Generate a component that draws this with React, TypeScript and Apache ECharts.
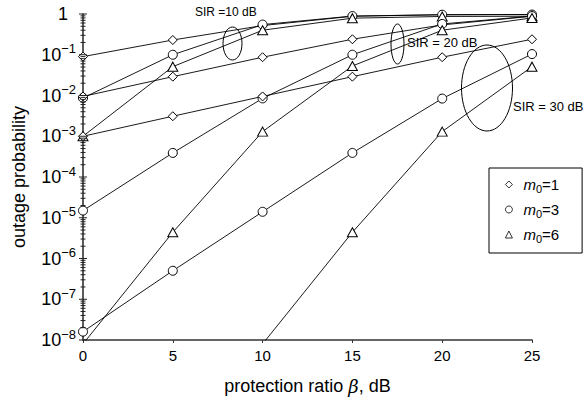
import React, { useEffect, useRef } from "react";
import * as echarts from "echarts";

const beta = [0, 5, 10, 15, 20, 25];

// SIR = 10 dB
const sir10_m1 = [0.09, 0.23, 0.52, 0.88, 0.96, 0.97];
const sir10_m3 = [0.0087, 0.1, 0.55, 0.89, 0.96, 0.97];
const sir10_m6 = [0.001, 0.051, 0.4, 0.79, 0.87, 0.88];
// SIR = 20 dB
const sir20_m1 = [0.0095, 0.029, 0.087, 0.24, 0.54, 0.88];
const sir20_m3 = [1.5e-5, 3.9e-4, 0.0085, 0.1, 0.57, 0.89];
const sir20_m6 = [8e-9, 4.4e-6, 0.0013, 0.053, 0.4, 0.8];
// SIR = 30 dB
const sir30_m1 = [0.001, 0.0031, 0.0095, 0.029, 0.087, 0.24];
const sir30_m3 = [1.6e-8, 5e-7, 1.4e-5, 3.9e-4, 0.0084, 0.104];
const sir30_m6 = [null, null, 8e-9, 4.4e-6, 0.0013, 0.051];

const legendNames = ["m0=1", "m0=3", "m0=6"];
const legendIcons = ["diamond", "circle", "triangle"];
const xTicks = [0, 5, 10, 15, 20, 25];
const yMin = 1e-8;
const yMax = 1;

const FONT = "Liberation Sans, Arial, Helvetica, sans-serif";

function pairs(vals: (number | null)[]) {
  return beta.map((b, i) => [b, vals[i]]);
}

export default function App() {
  const ref = useRef<HTMLDivElement>(null);
  useEffect(() => {
    document.body.style.margin = "0";
    const chart = echarts.init(ref.current!, null, { renderer: "svg" });

    // y-axis tick marks (major decades + log minor ticks)
    const tickData: number[][] = [];
    for (let e = -8; e <= 0; e++) {
      tickData.push([0, Math.pow(10, e), 4]);
      if (e < 0) {
        for (let k = 2; k <= 9; k++) tickData.push([0, k * Math.pow(10, e), 2.5]);
      }
    }

    const groups = [
      { data: sir10_m1, idx: 0 },
      { data: sir10_m3, idx: 1 },
      { data: sir10_m6, idx: 2 },
      { data: sir20_m1, idx: 0 },
      { data: sir20_m3, idx: 1 },
      { data: sir20_m6, idx: 2 },
      { data: sir30_m1, idx: 0 },
      { data: sir30_m3, idx: 1 },
      { data: sir30_m6, idx: 2 },
    ];

    const lineSeries = groups.map((g) => ({
      type: "line",
      name: legendNames[g.idx],
      data: pairs(g.data),
      symbol: legendIcons[g.idx],
      symbolSize: g.idx === 0 ? [9, 9] : g.idx === 1 ? 9 : [10, 9],
      showSymbol: true,
      connectNulls: false,
      lineStyle: { color: "#000", width: 0.9 },
      itemStyle: { color: "#fff", borderColor: "#000", borderWidth: 1 },
      emphasis: { disabled: true },
      z: 3,
    }));

    const option: any = {
      animation: false,
      grid: { left: 83, right: 54, top: 14, bottom: 59 },
      xAxis: {
        type: "value",
        min: 0,
        max: 25,
        interval: 5,
        axisLine: { lineStyle: { color: "#333", width: 1.6 } },
        axisTick: { show: true, length: 3, inside: false, lineStyle: { color: "#333" } },
        axisLabel: {
          color: "#000",
          fontSize: 15,
          fontFamily: FONT,
          margin: 8,
          customValues: xTicks,
        },
        splitLine: { show: false },
        name: "protection ratio {b|β}, dB",
        nameLocation: "middle",
        nameGap: 37,
        nameTextStyle: {
          color: "#000",
          fontSize: 18,
          fontFamily: FONT,
          rich: {
            b: { fontSize: 18, fontStyle: "italic", fontFamily: "DejaVu Serif, serif", color: "#000" },
          },
        },
      },
      yAxis: {
        type: "log",
        logBase: 10,
        min: yMin,
        max: yMax,
        splitNumber: 8,
        axisLine: { lineStyle: { color: "#333", width: 1.6 } },
        axisTick: { show: false },
        splitLine: { show: false },
        axisLabel: {
          color: "#000",
          margin: 7,
          fontFamily: FONT,
          formatter: (v: number) => {
            const e = Math.round(Math.log10(v));
            if (e === 0) return "{one|1}";
            return "{b|10}{s|−" + -e + "}";
          },
          rich: {
            one: { fontSize: 18, fontFamily: FONT, color: "#000", padding: [0, 8, 0, 0] },
            b: { fontSize: 18, fontFamily: FONT, color: "#000" },
            s: { fontSize: 13, fontFamily: FONT, color: "#000", padding: [0, 0, 12, 0] },
          },
        },
        name: "outage probability",
        nameLocation: "middle",
        nameGap: 55,
        nameTextStyle: { color: "#000", fontSize: 18, fontFamily: FONT },
      },
      legend: {
        orient: "vertical",
        left: 489,
        top: 168,
        padding: [9, 23, 9, 16],
        itemGap: 8,
        itemWidth: 7,
        itemHeight: 7,
        backgroundColor: "#fff",
        borderColor: "#000",
        borderWidth: 1,
        borderRadius: 0,
        selectedMode: false,
        itemStyle: { color: "#fff", borderColor: "#000", borderWidth: 0.8 },
        data: legendNames.map((n, i) => ({ name: n, icon: legendIcons[i] })),
        formatter: (name: string) => "{i|m}{s|0}{n|" + name.slice(2) + "}",
        textStyle: {
          color: "#000",
          fontFamily: FONT,
          rich: {
            i: { fontSize: 15, fontStyle: "italic", fontFamily: FONT, color: "#000", padding: [0, 0, 0, 6] },
            s: { fontSize: 11, fontFamily: FONT, color: "#000", padding: [8, 0, 0, 0] },
            n: { fontSize: 15, fontFamily: FONT, color: "#000" },
          },
        },
      },
      series: [
        ...lineSeries,
        {
          type: "custom",
          name: "ticks",
          data: tickData,
          clip: false,
          silent: true,
          z: 5,
          renderItem: (params: any, api: any) => {
            const p = api.coord([api.value(0), api.value(1)]);
            const h = api.value(2);
            return {
              type: "line",
              shape: { x1: p[0] - h, y1: p[1], x2: p[0] + h, y2: p[1] },
              style: { stroke: "#222", lineWidth: 1 },
            };
          },
        },
      ],
      graphic: [
        { type: "ellipse", shape: { cx: 232.5, cy: 43.5, rx: 9.5, ry: 16.5 }, style: { fill: "none", stroke: "#000", lineWidth: 1 }, z: 10 },
        { type: "ellipse", shape: { cx: 397.5, cy: 44, rx: 6.5, ry: 20 }, style: { fill: "none", stroke: "#000", lineWidth: 1 }, z: 10 },
        { type: "ellipse", shape: { cx: 487, cy: 88, rx: 25.5, ry: 43 }, style: { fill: "none", stroke: "#000", lineWidth: 1 }, z: 10 },
        { type: "text", left: 195, top: 6, style: { text: "SIR =10 dB", fontSize: 12, fontFamily: FONT, fill: "#000" }, z: 10 },
        { type: "text", left: 407, top: 36, style: { text: "SIR = 20 dB", fontSize: 13, fontFamily: FONT, fill: "#000" }, z: 10 },
        { type: "text", left: 513, top: 100, style: { text: "SIR = 30 dB", fontSize: 13, fontFamily: FONT, fill: "#000" }, z: 10 },
      ],
    };
    chart.setOption(option);
    return () => chart.dispose();
  }, []);
  return (
    <div
      ref={ref}
      style={{ position: "fixed", left: 0, top: 0, width: 586, height: 400, background: "#fff" }}
    />
  );
}
